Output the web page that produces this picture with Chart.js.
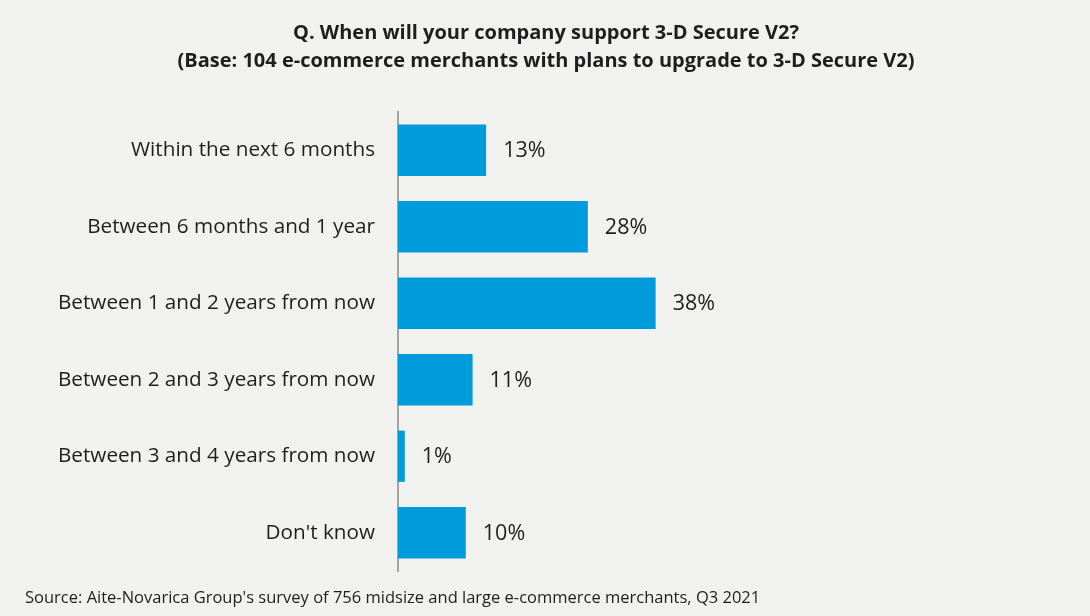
<!DOCTYPE html>
<html>
<head>
<meta charset="utf-8">
<script src="https://cdn.jsdelivr.net/npm/chart.js@4.4.0/dist/chart.umd.min.js"></script>
<style>
  html, body { margin:0; padding:0; background:#f1f1ef; }
  #wrap { width:1090px; height:616px; position:relative; }
</style>
</head>
<body>
<div id="wrap"><canvas id="chart"></canvas></div>
<script>
  // survey answers, top to bottom
  const categories = [
    'Within the next 6 months',
    'Between 6 months and 1 year',
    'Between 1 and 2 years from now',
    'Between 2 and 3 years from now',
    'Between 3 and 4 years from now',
    "Don't know"
  ];
  const shares = [13, 28, 38, 11, 1, 10];

  const titleLines = [
    'Q. When will your company support 3-D Secure V2?',
    '(Base: 104 e-commerce merchants with plans to upgrade to 3-D Secure V2)'
  ];
  const sourceNote = "Source: Aite-Novarica Group's survey of 756 midsize and large e-commerce merchants, Q3 2021";

  const FONT = '"Open Sans", Lato, sans-serif';
  const TEXT = '#1e1e1e';

  // header text and source line
  const textPlugin = {
    id: 'textBlocks',
    afterDraw(chart) {
      const ctx = chart.ctx;
      ctx.save();
      ctx.fillStyle = TEXT;
      ctx.textAlign = 'center';
      ctx.textBaseline = 'middle';
      ctx.font = 'bold 20px ' + FONT;
      ctx.fillText(titleLines[0], 546, 33);
      ctx.fillText(titleLines[1], 546, 61);
      ctx.textAlign = 'left';
      ctx.font = '16.5px ' + FONT;
      ctx.fillText(sourceNote, 25, 598);
      ctx.restore();
    }
  };

  // percent labels to the right of each bar
  const valueLabels = {
    id: 'valueLabels',
    afterDatasetsDraw(chart) {
      const ctx = chart.ctx;
      const meta = chart.getDatasetMeta(0);
      ctx.save();
      ctx.fillStyle = TEXT;
      ctx.font = '21.5px ' + FONT;
      ctx.textAlign = 'left';
      ctx.textBaseline = 'middle';
      meta.data.forEach((bar, i) => {
        ctx.fillText(shares[i] + '%', bar.x + 17, bar.y + 1);
      });
      ctx.restore();
    }
  };

  new Chart(document.getElementById('chart'), {
    type: 'bar',
    data: {
      labels: categories,
      datasets: [{
        data: shares,
        backgroundColor: '#009bdb',
        borderWidth: 0,
        barPercentage: 0.67,
        categoryPercentage: 1
      }]
    },
    options: {
      indexAxis: 'y',
      responsive: true,
      maintainAspectRatio: false,
      animation: false,
      layout: { padding: { top: 112, bottom: 45, left: 0, right: 14 } },
      plugins: { legend: { display: false }, tooltip: { enabled: false } },
      scales: {
        x: { display: false, min: 0, max: 100 },
        y: {
          afterFit(scale) { scale.width = 398; },
          grid: { display: false },
          border: { display: true, color: '#a3a3a3', width: 2 },
          ticks: {
            color: TEXT,
            padding: 15,
            font: { family: FONT, size: 20.7 }
          }
        }
      }
    },
    plugins: [textPlugin, valueLabels]
  });
</script>
</body>
</html>
